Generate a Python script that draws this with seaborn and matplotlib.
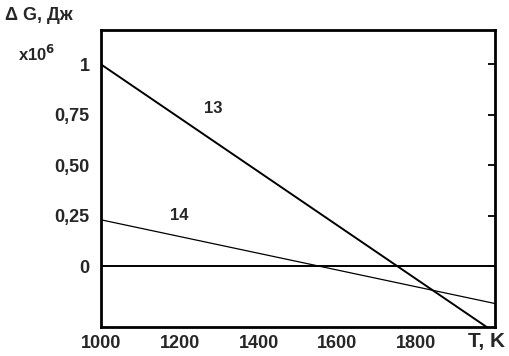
import matplotlib.pyplot as plt
import pandas as pd
import seaborn as sns

# Values (dG in units of 10^6 J)
T = [1000, 2000]
dg_13 = [1.0, -0.33]
dg_14 = [0.23, -0.185]
dg_zero = [0.0, 0.0]
y_ticks = [0, 0.25, 0.5, 0.75, 1.0]
y_tick_labels = ['0', '0,25', '0,50', '0,75', '1']
x_ticks = [1000, 1200, 1400, 1600, 1800]

df = pd.DataFrame({
    'T': T * 3,
    'dG': dg_13 + dg_14 + dg_zero,
    'curve': ['13'] * 2 + ['14'] * 2 + ['0'] * 2,
})

sns.set_style('white')
plt.rcParams['font.family'] = ['Liberation Sans', 'DejaVu Sans']
plt.rcParams['font.weight'] = 'bold'

fig = plt.figure(figsize=(5.09, 3.56), dpi=100)
ax = fig.add_axes([0.198, 0.082, 0.775, 0.834])

sns.lineplot(data=df, x='T', y='dG', hue='curve', size='curve',
             palette={'13': 'black', '14': 'black', '0': 'black'},
             sizes={'13': 1.4, '14': 0.9, '0': 1.4},
             legend=False, ax=ax)

ax.set_xlim(1000, 2000)
ax.set_ylim(-0.30, 1.17)
ax.set_xticks(x_ticks)
ax.set_yticks(y_ticks)
ax.set_yticklabels(y_tick_labels)
ax.tick_params(direction='in', length=5, width=1.3, labelsize=13, pad=8, color='black')
ax.tick_params(axis='y', right=True)
ax.tick_params(axis='x', pad=6)
for s in ax.spines.values():
    s.set_linewidth(2)
    s.set_color('black')
ax.set_xlabel('')
ax.set_ylabel('')

# Curve labels
ax.text(1285, 0.78, '13', fontsize=12, fontweight='bold', ha='center', va='center')
ax.text(1200, 0.25, '14', fontsize=12, fontweight='bold', ha='center', va='center')

# Axis titles
fig.text(5 / 509, 1 - 15 / 356, '\u0394 G, Дж', fontsize=13, fontweight='bold', va='center', ha='left')
fig.text(18 / 509, 1 - 54 / 356, 'x10$^{\\mathbf{6}}$', fontsize=12, fontweight='bold', va='center', ha='left')
fig.text(505 / 509, 1 - 341 / 356, 'T, K', fontsize=15, fontweight='bold', va='center', ha='right')

fig.savefig('out.png', dpi=100)
